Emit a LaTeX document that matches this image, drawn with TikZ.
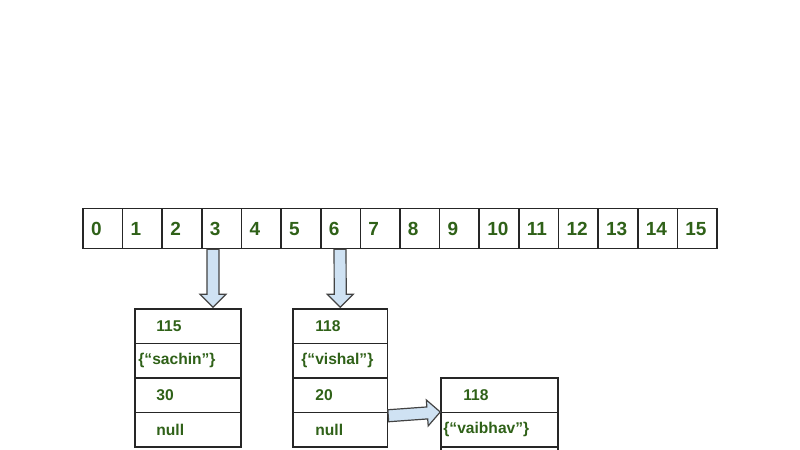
\documentclass[tikz,border=0pt]{standalone}
\usepackage{fontspec}
\setmainfont{Liberation Sans}
\usetikzlibrary{calc}
\definecolor{numgreen}{HTML}{2F6118}
\definecolor{arrowblue}{HTML}{CFE2F3}
\definecolor{arrowline}{HTML}{434343}
\newcommand{\blockarrow}[3]{%
  \coordinate (#1h) at ($(#3)!6.5pt!(#2)$);
  \draw[blockarr] ($(#2)!3pt!90:(#3)$) -- ($(#1h)!3pt!90:(#3)$) -- ($(#1h)!6.5pt!90:(#3)$) -- (#3)
    -- ($(#1h)!6.5pt!-90:(#3)$) -- ($(#1h)!3pt!-90:(#3)$) -- ($(#2)!3pt!-90:(#3)$) -- cycle;}
\begin{document}
\begin{tikzpicture}[x=0.5pt, y=-0.5pt,
  cell/.style={draw=black!85, line width=0.75pt, text width=11.8pt, inner xsep=4pt, minimum height=20pt,
    text height=7pt, text depth=0pt, align=left, text=numgreen, font=\bfseries\fontsize{9.5}{11}\selectfont},
  field/.style={draw=black!85, line width=0.75pt, minimum height=17.25pt, inner sep=0pt},
  val/.style={anchor=west, inner sep=0pt, text=numgreen, font=\bfseries\fontsize{7.8}{9}\selectfont},
  blockarr/.style={draw=arrowline, fill=arrowblue, line width=0.6pt, line join=miter}]
  \useasboundingbox (0,0) rectangle (800,450);
  \clip (0,0) rectangle (800,450);
  \foreach \i in {0,...,15}
    \node[cell] (c\i) at ({102.8+39.625*\i},228.5) {\i};
  \node[field, minimum width=53pt] (s1) at (188,326.25) {};
  \node[field, minimum width=53pt] (s2) at (188,360.75) {};
  \node[field, minimum width=53pt] (s3) at (188,395.25) {};
  \node[field, minimum width=53pt] (s4) at (188,429.75) {};
  \node[val] (s1v) at (156,326.25) {115};
  \node[val] (s2v) at (138,360.75) {\{“sachin”\}};
  \node[val] (s3v) at (156,395.25) {30};
  \node[val] (s4v) at (156,429.75) {null};
  \node[field, minimum width=47.25pt] (v1) at (340.25,326.25) {};
  \node[field, minimum width=47.25pt] (v2) at (340.25,360.75) {};
  \node[field, minimum width=47.25pt] (v3) at (340.25,395.25) {};
  \node[field, minimum width=47.25pt] (v4) at (340.25,429.75) {};
  \node[val] (v1v) at (315,326.25) {118};
  \node[val] (v2v) at (301,360.75) {\{“vishal”\}};
  \node[val] (v3v) at (315,395.25) {20};
  \node[val] (v4v) at (315,429.75) {null};
  \node[field, minimum width=58.5pt] (b1) at (499.5,395) {};
  \node[field, minimum width=58.5pt] (b2) at (499.5,429.5) {};
  \node[field, minimum width=58.5pt] (b3) at (499.5,464) {};
  \node[val] (b1v) at (463,395) {118};
  \node[val] (b2v) at (443,429.5) {\{“vaibhav”\}};
  \blockarrow{ar}{$(c3.south)+(-8.7,0)$}{$(s1.north)+(25,-1)$}
  \blockarrow{av}{$(c6.south)+(-0.5,0)$}{$(v1.north)+(0,-1)$}
  \blockarrow{ab}{$(v3.south east)+(0,2.5)$}{$(b1.south west)+(0,-1)$}
\end{tikzpicture}
\end{document}
